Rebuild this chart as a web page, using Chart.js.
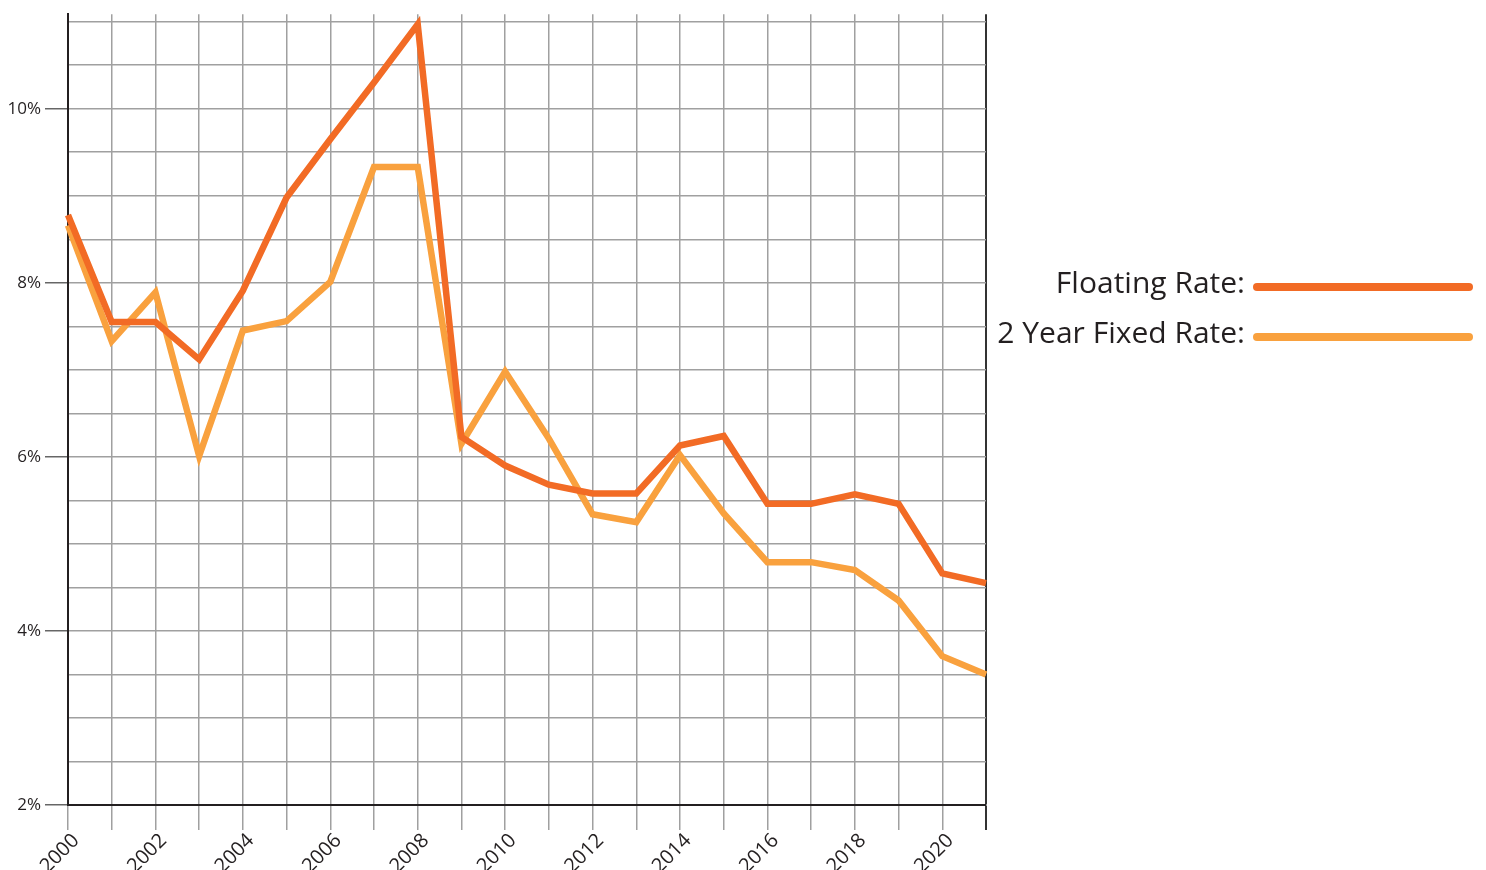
<!DOCTYPE html>
<html>
<head>
<meta charset="utf-8">
<script src="https://cdn.jsdelivr.net/npm/chart.js@4/dist/chart.umd.min.js"></script>
<style>
  html, body { margin: 0; padding: 0; background: #fff; overflow: hidden; }
  #wrap { width: 1486px; height: 870px; position: relative; }
</style>
</head>
<body>
<div id="wrap"><canvas id="rates" width="1486" height="870"></canvas></div>
<script>
// Annual mortgage rates, percent
const years = ['2000','2001','2002','2003','2004','2005','2006','2007','2008','2009','2010',
               '2011','2012','2013','2014','2015','2016','2017','2018','2019','2020','2021'];
const floatingRate = [8.78, 7.55, 7.55, 7.12, 7.91, 8.98, 9.65, 10.3, 10.97, 6.23, 5.90,
                      5.68, 5.58, 5.58, 6.13, 6.24, 5.46, 5.46, 5.57, 5.46, 4.66, 4.55];
const fixedRate2y = [8.66, 7.33, 7.89, 6.01, 7.45, 7.56, 8.01, 9.33, 9.33, 6.15, 6.98,
                     6.21, 5.34, 5.25, 6.02, 5.35, 4.79, 4.79, 4.70, 4.35, 3.71, 3.50];
const seriesNames = ['Floating Rate:', '2 Year Fixed Rate:'];
const yLabelValues = [2, 4, 6, 8, 10];
const yGridStep = 0.5;

const FONT = '"Open Sans", "Noto Sans", sans-serif';
const INK = '#231f20';
const GRID = '#a0a0a0';

// Legend drawn at the right of the plot: label text followed by a swatch line
const sideLegend = {
  id: 'sideLegend',
  afterDraw(chart) {
    const ctx = chart.ctx;
    const rows = [287, 337];
    ctx.save();
    chart.data.datasets.forEach((ds, i) => {
      const y = rows[i];
      ctx.font = '30px ' + FONT;
      ctx.fillStyle = INK;
      ctx.textAlign = 'right';
      ctx.textBaseline = 'middle';
      ctx.fillText(ds.label, 1245, y - 3);
      ctx.beginPath();
      ctx.lineCap = 'round';
      ctx.lineWidth = 8;
      ctx.strokeStyle = ds.borderColor;
      ctx.moveTo(1257, y);
      ctx.lineTo(1469, y);
      ctx.stroke();
    });
    ctx.restore();
  }
};

new Chart(document.getElementById('rates'), {
  type: 'line',
  data: {
    labels: years,
    datasets: [
      { label: seriesNames[0], data: floatingRate, borderColor: '#f26b25', borderWidth: 6.5,
        pointRadius: 0, tension: 0, borderJoinStyle: 'miter', fill: false },
      { label: seriesNames[1], data: fixedRate2y, borderColor: '#f9a13e', borderWidth: 6.5,
        pointRadius: 0, tension: 0, borderJoinStyle: 'miter', fill: false }
    ]
  },
  options: {
    responsive: false,
    animation: false,
    layout: { padding: { top: 10, right: 500, left: 0, bottom: 0 } },
    plugins: { legend: { display: false }, tooltip: { enabled: false } },
    scales: {
      x: {
        type: 'category',
        offset: false,
        border: { color: INK, width: 2 },
        grid: {
          color: c => c.index === years.length - 1 ? '#333' : GRID,
          lineWidth: c => c.index === years.length - 1 ? 2 : 1.5,
          tickColor: c => c.index === years.length - 1 ? '#333' : GRID,
          tickLength: 25,
          drawTicks: true
        },
        ticks: {
          autoSkip: false,
          maxRotation: 45,
          minRotation: 45,
          padding: -1,
          labelOffset: 8,
          color: INK,
          font: { family: FONT, size: 20 },
          callback: (v, i) => (i % 2 === 0 ? years[i] : '')
        },
        afterFit: s => { s.height = 65; }
      },
      y: {
        min: 2,
        max: 11.086,
        border: { color: INK, width: 2 },
        grid: {
          color: GRID,
          lineWidth: 1.5,
          tickLength: 23,
          tickColor: c => (c.tick && yLabelValues.includes(c.tick.value)) ? '#666' : 'rgba(0,0,0,0)'
        },
        ticks: {
          padding: 4,
          color: INK,
          font: { family: FONT, size: 17 },
          callback: v => (yLabelValues.includes(v) ? v + '%' : '')
        },
        afterBuildTicks: s => {
          const t = [];
          for (let v = 2; v <= 11 + 1e-9; v += yGridStep) t.push({ value: Math.round(v * 10) / 10 });
          s.ticks = t;
        },
        afterFit: s => { s.width = 68; }
      }
    }
  },
  plugins: [sideLegend]
});
</script>
</body>
</html>
